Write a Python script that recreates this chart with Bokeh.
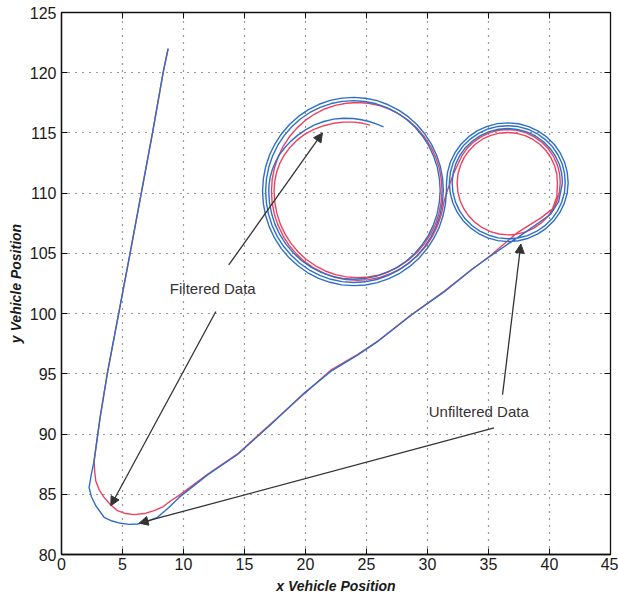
from bokeh.plotting import figure
from bokeh.models import Range1d, FixedTicker, LinearAxis, Arrow, NormalHead, ColumnDataSource
from bokeh.core.properties import value
from bokeh.embed import file_html
from bokeh.resources import INLINE

# ---- axis ticks ----
x_ticks = [0, 5, 10, 15, 20, 25, 30, 35, 40, 45]
y_ticks = [80, 85, 90, 95, 100, 105, 110, 115, 120, 125]

# ---- measured vehicle track (unfiltered) ----
raw_x = [
    # straight run down and the turn at the bottom
    8.74, 8.33, 7.46, 5.62, 3.75, 3.16, 2.67,
    2.45, 2.26, 2.45, 2.81, 3.49, 4.15, 4.86, 5.55, 6.23, 7.05, 7.87, 8.80, 9.64,
    # diagonal run up to the small loop
    12.00, 14.43, 17.16, 19.89, 22.07, 24.26, 25.90, 28.63, 31.36, 33.55, 35.19, 37.65, 40.10, 40.75,
    # small loop (counter-clockwise)
    41.06, 41.00, 40.81, 40.48, 40.04, 39.49, 38.85, 38.14, 37.39, 36.60, 35.81, 35.05, 34.33, 33.68,
    33.11, 32.65, 32.31, 32.10, 32.02, 32.09, 32.29, 32.62, 33.07, 33.64, 34.29, 35.02, 35.79, 36.60,
    37.41, 38.19, 38.93, 39.60, 40.18, 40.65, 41.00, 41.22, 41.29, 41.23, 41.03, 40.68, 40.22, 39.64,
    38.97, 38.22, 37.43, 36.60, 35.77, 34.97, 34.21, 33.53, 32.93, 32.45, 32.09, 31.87, 31.79, 31.86,
    32.07, 32.42, 32.90, 33.49, 34.18, 34.94, 35.75, 36.60, 37.45, 38.27, 39.05, 39.75, 40.36, 40.85,
    41.22, 41.45, 41.53, 41.46, 41.25, 40.89, 40.40, 39.79, 39.08, 38.30, 37.47, 36.60, 35.73, 34.89,
    34.10, 33.38, 32.76, 32.25, 31.87, 31.64, 31.56,
    # large loop (clockwise), first pass
    31.55, 31.48, 31.28, 30.96, 30.51, 29.96, 29.30, 28.55, 27.73, 26.84, 25.90, 24.93, 23.95, 22.97,
    22.00, 21.07, 20.19, 19.38, 18.64, 18.00, 17.46, 17.03, 16.72, 16.54, 16.48, 16.55, 16.74, 17.06,
    17.50, 18.04, 18.69, 19.42, 20.24, 21.11, 22.03, 22.98, 23.95, 24.92, 25.87, 26.78, 27.64, 28.44,
    29.17, 29.80, 30.33, 30.75, 31.06, 31.24, 31.30,
    # second pass
    31.23, 31.03, 30.72, 30.29, 29.76, 29.12, 28.40, 27.60, 26.74, 25.84, 24.90, 23.95, 23.00, 22.07,
    21.17, 20.32, 19.53, 18.83, 18.20, 17.68, 17.27, 16.97, 16.79, 16.73, 16.80, 16.99, 17.30, 17.72,
    18.25, 18.87, 19.58, 20.36, 21.21, 22.10, 23.02, 23.95, 24.88, 25.80, 26.68, 27.52, 28.29, 28.99,
    29.60, 30.11, 30.51, 30.81, 30.98, 31.04,
    # third pass and the inward end
    30.97, 30.79, 30.49, 30.07, 29.55, 28.94, 28.24, 27.47, 26.65, 25.77, 24.87, 23.95, 23.03, 22.13,
    21.27, 20.45, 19.69, 19.01, 18.41, 17.90, 17.50, 17.22, 17.04, 16.99,
    17.02, 17.12, 17.30, 17.55, 17.87, 18.28, 18.78, 19.35, 20.00, 20.70, 21.50, 22.30, 23.10, 23.90,
    24.60, 25.20, 25.80, 26.40,
]
raw_y = [
    122.00, 120.00, 115.00, 105.00, 95.00, 91.34, 87.76,
    86.70, 85.56, 84.80, 84.05, 83.09, 82.78, 82.59, 82.50, 82.53, 82.75, 83.09, 83.90, 84.74,
    86.63, 88.30, 90.80, 93.40, 95.20, 96.56, 97.67, 99.86, 101.80, 103.60, 104.80, 106.50, 108.25, 109.30,
    110.85, 111.63, 112.38, 113.09, 113.73, 114.29, 114.75, 115.09, 115.29, 115.37, 115.31, 115.11, 114.78, 114.33,
    113.78, 113.13, 112.41, 111.65, 110.85, 110.05, 109.28, 108.55, 107.89, 107.32, 106.85, 106.51, 106.29, 106.21,
    106.28, 106.48, 106.82, 107.28, 107.85, 108.51, 109.25, 110.03, 110.85, 111.67, 112.46, 113.21, 113.89, 114.47,
    114.95, 115.31, 115.53, 115.60, 115.54, 115.33, 114.98, 114.51, 113.93, 113.25, 112.49, 111.69, 110.85, 110.01,
    109.20, 108.44, 107.74, 107.14, 106.65, 106.29, 106.06, 105.98, 106.05, 106.26, 106.62, 107.10, 107.70, 108.40,
    109.17, 109.99, 110.85, 111.71, 112.54, 113.32, 114.04, 114.65, 115.15, 115.53, 115.76, 115.84, 115.77, 115.55,
    115.19, 114.69, 114.08, 113.36, 112.57, 111.73, 110.85,
    110.20, 109.16, 108.14, 107.16, 106.24, 105.38, 104.60, 103.92, 103.35, 102.90, 102.57, 102.38, 102.32, 102.39,
    102.60, 102.93, 103.39, 103.97, 104.65, 105.42, 106.28, 107.20, 108.17, 109.18, 110.20, 111.22, 112.22, 113.19,
    114.10, 114.94, 115.70, 116.37, 116.93, 117.38, 117.70, 117.89, 117.95, 117.88, 117.68, 117.34, 116.89, 116.33,
    115.66, 114.89, 114.05, 113.15, 112.19, 111.20, 110.20,
    109.20, 108.21, 107.27, 106.37, 105.54, 104.79, 104.14, 103.59, 103.15, 102.83, 102.64, 102.58, 102.66, 102.85,
    103.18, 103.62, 104.18, 104.84, 105.59, 106.41, 107.30, 108.24, 109.21, 110.20, 111.18, 112.15, 113.08, 113.96,
    114.78, 115.51, 116.16, 116.70, 117.13, 117.44, 117.62, 117.68, 117.61, 117.42, 117.10, 116.66, 116.12, 115.47,
    114.73, 113.92, 113.05, 112.12, 111.17, 110.20,
    109.23, 108.28, 107.37, 106.50, 105.70, 104.98, 104.35, 103.82, 103.40, 103.09, 102.91, 102.85, 102.92, 103.11,
    103.43, 103.86, 104.39, 105.03, 105.75, 106.55, 107.41, 108.31, 109.25, 110.20,
    110.80, 111.40, 112.00, 112.60, 113.20, 113.75, 114.30, 114.80, 115.25, 115.65, 115.95, 116.15, 116.22, 116.20,
    116.10, 115.95, 115.75, 115.50,
]

# ---- filtered estimate of the same track ----
filt_x = [
    8.74, 8.33, 7.46, 5.62, 3.75, 3.16, 2.67,
    2.72, 2.81, 3.10, 3.49, 4.00, 4.59, 5.25, 5.95, 6.80, 7.59, 8.35, 8.96, 9.70,
    12.00, 14.43, 17.16, 19.89, 22.07, 24.26, 25.90, 28.63, 31.36, 33.55, 35.19, 37.40, 39.30, 40.25, 40.60,
    # small loop
    40.65, 40.60, 40.42, 40.12, 39.72, 39.23, 38.65, 38.00, 37.31, 36.60, 35.88, 35.19, 34.54, 33.94,
    33.43, 33.01, 32.70, 32.50, 32.43, 32.49, 32.67, 32.97, 33.39, 33.90, 34.50, 35.16, 35.87, 36.60,
    37.34, 38.05, 38.72, 39.33, 39.86, 40.29, 40.62, 40.81, 40.88, 40.83, 40.64, 40.33, 39.90, 39.38,
    38.76, 38.08, 37.35, 36.60, 35.84, 35.11, 34.42, 33.79, 33.25, 32.81, 32.48,
    32.15, 31.85, 31.55,
    # large loop
    31.34, 31.15, 30.84, 30.43, 29.91, 29.29, 28.58, 27.81, 26.97, 26.09, 25.18, 24.25, 23.32, 22.41,
    21.54, 20.71, 19.94, 19.25, 18.64, 18.14, 17.73, 17.44, 17.26, 17.21, 17.27, 17.46, 17.76, 18.17,
    18.68, 19.29, 19.98, 20.75, 21.57, 22.44, 23.34, 24.25, 25.16, 26.06, 26.92, 27.74, 28.49, 29.17,
    29.77, 30.27, 30.67, 30.96, 31.13, 31.19,
    31.12, 30.94, 30.65, 30.24, 29.74, 29.14, 28.45, 27.70, 26.89, 26.04, 25.15, 24.25, 23.35, 22.47,
    21.62, 20.82, 20.07, 19.40, 18.81, 18.32, 17.93, 17.65, 17.48, 17.42,
    17.48, 17.62, 17.88, 18.25, 18.72, 19.30, 19.95, 20.70, 21.50, 22.30, 23.10, 24.00, 24.70, 25.30,
]
filt_y = [
    122.00, 120.00, 115.00, 105.00, 95.00, 91.34, 87.76,
    86.90, 86.11, 85.35, 84.74, 84.15, 83.64, 83.40, 83.31, 83.40, 83.64, 83.98, 84.46, 84.95,
    86.68, 88.35, 90.85, 93.35, 95.30, 96.60, 97.70, 99.85, 101.85, 103.60, 104.85, 106.75, 107.95, 108.70, 109.70,
    110.85, 111.57, 112.27, 112.93, 113.52, 114.04, 114.46, 114.78, 114.97, 115.04, 114.98, 114.80, 114.50, 114.08,
    113.57, 112.97, 112.30, 111.59, 110.85, 110.11, 109.39, 108.71, 108.10, 107.57, 107.13, 106.81, 106.61, 106.54,
    106.60, 106.79, 107.10, 107.53, 108.06, 108.68, 109.36, 110.09, 110.85, 111.61, 112.35, 113.05, 113.68, 114.22,
    114.67, 115.00, 115.21, 115.28, 115.22, 115.03, 114.70, 114.26, 113.72, 113.09, 112.38,
    111.65, 110.85, 110.00,
    109.22, 108.26, 107.34, 106.46, 105.65, 104.92, 104.28, 103.74, 103.31, 103.00, 102.82, 102.76, 102.83, 103.02,
    103.34, 103.77, 104.31, 104.96, 105.69, 106.50, 107.37, 108.28, 109.24, 110.20, 111.16, 112.11, 113.02, 113.89,
    114.68, 115.40, 116.04, 116.57, 116.99, 117.29, 117.47, 117.53, 117.46, 117.27, 116.96, 116.53, 116.00, 115.36,
    114.64, 113.85, 112.99, 112.09, 111.15, 110.20,
    109.25, 108.32, 107.42, 106.57, 105.79, 105.08, 104.45, 103.93, 103.52, 103.22, 103.04, 102.98, 103.05, 103.24,
    103.54, 103.97, 104.49, 105.12, 105.83, 106.61, 107.45, 108.34, 109.27, 110.20,
    110.95, 111.70, 112.45, 113.15, 113.80, 114.40, 114.90, 115.30, 115.60, 115.80, 115.90, 115.90, 115.80, 115.65,
]

# ---- annotations ----
label_text = ["Filtered Data", "Unfiltered Data"]
label_x = [12.4, 34.2]
label_y = [102.1, 91.9]

arrow_x_start = [13.71, 12.65, 36.15, 35.46]
arrow_y_start = [104.04, 100.17, 93.26, 90.51]
arrow_x_end = [21.39, 4.04, 37.65, 6.36]
arrow_y_end = [115.0, 84.05, 105.78, 82.6]

FONT = "Liberation Sans"
INK = "#1a1a1a"
FRAME = "#111111"

p = figure(
    width=618, height=596,
    x_range=Range1d(0, 45), y_range=Range1d(80, 125),
    output_backend="svg", toolbar_location=None,
    min_border_left=61, min_border_right=8, min_border_top=12, min_border_bottom=39,
    x_axis_label="x Vehicle Position", y_axis_label="y Vehicle Position",
)
p.background_fill_color = "white"
p.border_fill_color = "white"
p.outline_line_color = FRAME
p.outline_line_width = 1.3

p.xaxis[0].ticker = FixedTicker(ticks=x_ticks)
p.yaxis[0].ticker = FixedTicker(ticks=y_ticks)
for ax in (p.xaxis[0], p.yaxis[0]):
    ax.major_tick_in = 6
    ax.major_tick_out = 0
    ax.minor_tick_line_color = None
    ax.axis_line_color = FRAME
    ax.axis_line_width = 1.3
    ax.major_tick_line_color = FRAME
    ax.major_label_text_font = FONT
    ax.major_label_text_font_size = "16px"
    ax.major_label_text_color = INK
    ax.axis_label_text_font = FONT
    ax.axis_label_text_font_size = "14px"
    ax.axis_label_text_font_style = "bold italic"
    ax.axis_label_text_color = INK
p.xaxis[0].major_label_standoff = 3
p.xaxis[0].axis_label_standoff = 5
p.yaxis[0].major_label_standoff = 5
p.yaxis[0].axis_label_standoff = 3

# box ticks on the top and right edges (tick marks only, no labels)
for side, ticks in (("above", x_ticks), ("right", y_ticks)):
    ax = LinearAxis(ticker=FixedTicker(ticks=[], minor_ticks=ticks))
    ax.minor_tick_in = 6
    ax.minor_tick_out = 0
    ax.minor_tick_line_color = FRAME
    ax.major_tick_line_color = None
    ax.axis_line_color = FRAME
    p.add_layout(ax, side)

p.xgrid[0].ticker = FixedTicker(ticks=x_ticks)
p.ygrid[0].ticker = FixedTicker(ticks=y_ticks)
for g in (p.xgrid[0], p.ygrid[0]):
    g.grid_line_color = "#333333"
    g.grid_line_dash = "1 6"
    g.grid_line_width = 1.2

p.line(filt_x, filt_y, line_color="#ee4060", line_width=1.4, line_join="round")
p.line(raw_x, raw_y, line_color="#2d6fc6", line_width=1.4, line_join="round")

for xs, ys, xe, ye in zip(arrow_x_start, arrow_y_start, arrow_x_end, arrow_y_end):
    p.add_layout(Arrow(
        x_start=xs, y_start=ys, x_end=xe, y_end=ye,
        line_color="#333333", line_width=1.3,
        end=NormalHead(size=9, fill_color="#333333", line_color="#333333", line_width=1),
    ))

labels = ColumnDataSource(dict(x=label_x, y=label_y, text=label_text))
p.text(x="x", y="y", text="text", source=labels,
       text_font=value(FONT), text_font_size="15px", text_color="#333333",
       text_align="center", text_baseline="middle")

open("out.html", "w").write(file_html(p, INLINE))
